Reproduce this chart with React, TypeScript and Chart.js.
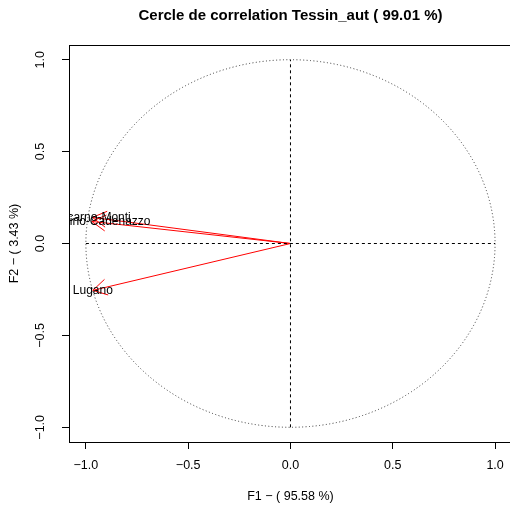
import React, { useEffect, useRef } from "react";
import { Chart, registerables } from "chart.js";

Chart.register(...registerables);

const TITLE = "Cercle de correlation Tessin_aut ( 99.01 %)";
const X_TITLE = "F1 \u2212 ( 95.58 %)";
const Y_TITLE = "F2 \u2212 ( 3.43 %)";

const variables = ["Locarno-Monti", "Magadino-Cadenazzo", "Lugano"];
const f1Values = [-0.968, -0.971, -0.966];
const f2Values = [0.142, 0.12, -0.255];

const tickValues = [-1, -0.5, 0, 0.5, 1];
const tickLabels = ["\u22121.0", "\u22120.5", "0.0", "0.5", "1.0"];

const X_MIN = -1.0825;
const X_MAX = 1.073;
const Y_MIN = -1.08;
const Y_MAX = 1.08;

const FONT = '"Liberation Sans", Arial, Helvetica, sans-serif';

const rPlugin = {
  id: "rStyle",
  beforeDatasetsDraw(chart: any) {
    const { ctx, chartArea, scales } = chart;
    const xs = scales.x;
    const ys = scales.y;
    const cx = xs.getPixelForValue(0);
    const cy = ys.getPixelForValue(0);
    const rx = xs.getPixelForValue(1) - cx;
    const ry = cy - ys.getPixelForValue(1);
    ctx.save();
    ctx.beginPath();
    ctx.rect(chartArea.left, chartArea.top, chartArea.right - chartArea.left, chartArea.bottom - chartArea.top);
    ctx.clip();
    ctx.strokeStyle = "#333";
    ctx.lineWidth = 1;
    ctx.setLineDash([1, 2.4]);
    ctx.beginPath();
    ctx.ellipse(cx, cy, rx, ry, 0, 0, Math.PI * 2);
    ctx.stroke();
    ctx.restore();
  },
  afterDatasetsDraw(chart: any) {
    const { ctx, chartArea, scales } = chart;
    const xs = scales.x;
    const ys = scales.y;
    ctx.save();
    ctx.strokeStyle = "#000";
    ctx.lineWidth = 1;
    ctx.setLineDash([]);
    ctx.strokeRect(
      Math.round(chartArea.left) + 0.5,
      Math.round(chartArea.top) + 0.5,
      chartArea.right - chartArea.left,
      chartArea.bottom - chartArea.top
    );
    ctx.beginPath();
    ctx.rect(chartArea.left, chartArea.top, chartArea.right - chartArea.left, chartArea.bottom - chartArea.top);
    ctx.clip();
    chart.data.datasets.forEach((ds: any, i: number) => {
      if (!ds.isArrow) return;
      const meta = chart.getDatasetMeta(i);
      const p0 = meta.data[0];
      const p1 = meta.data[1];
      const dx = p0.x - p1.x;
      const dy = p0.y - p1.y;
      const len = Math.hypot(dx, dy);
      const ux = dx / len;
      const uy = dy / len;
      const L = 16;
      const a = Math.PI / 6;
      ctx.strokeStyle = "#ff0000";
      ctx.lineWidth = 1;
      ctx.beginPath();
      for (const s of [-1, 1]) {
        const c = Math.cos(s * a);
        const sn = Math.sin(s * a);
        const bx = ux * c - uy * sn;
        const by = ux * sn + uy * c;
        ctx.moveTo(p1.x, p1.y);
        ctx.lineTo(p1.x + bx * L, p1.y + by * L);
      }
      ctx.stroke();
    });
    ctx.fillStyle = "#000";
    ctx.font = `12px ${FONT}`;
    ctx.textAlign = "center";
    ctx.textBaseline = "middle";
    variables.forEach((v, i) => {
      ctx.fillText(v, xs.getPixelForValue(f1Values[i]), ys.getPixelForValue(f2Values[i]));
    });
    ctx.restore();

    ctx.save();
    ctx.fillStyle = "#000";
    ctx.font = `12.5px ${FONT}`;
    ctx.textAlign = "center";
    ctx.textBaseline = "middle";
    tickValues.forEach((t, i) => {
      ctx.fillText(tickLabels[i], xs.getPixelForValue(t), 466);
    });
    tickValues.forEach((t, i) => {
      ctx.save();
      ctx.translate(41, ys.getPixelForValue(t));
      ctx.rotate(-Math.PI / 2);
      ctx.fillText(tickLabels[i], 0, 0);
      ctx.restore();
    });
    ctx.fillText(X_TITLE, xs.getPixelForValue(0), 497);
    ctx.save();
    ctx.translate(15, ys.getPixelForValue(0));
    ctx.rotate(-Math.PI / 2);
    ctx.fillText(Y_TITLE, 0, 0);
    ctx.restore();
    ctx.font = `bold 15px ${FONT}`;
    ctx.fillText(TITLE, xs.getPixelForValue(0), 16);
    ctx.restore();
  },
};

export default function App() {
  const ref = useRef<HTMLCanvasElement | null>(null);
  useEffect(() => {
    if (!ref.current) return;
    const arrowSets = variables.map((v, i) => ({
      label: v,
      isArrow: true,
      data: [
        { x: 0, y: 0 },
        { x: f1Values[i], y: f2Values[i] },
      ],
      showLine: true,
      borderColor: "#ff0000",
      borderWidth: 1,
      pointRadius: 0,
      fill: false,
    }));
    const chart = new Chart(ref.current, {
      type: "scatter",
      data: {
        datasets: [
          {
            label: "h",
            data: [
              { x: -1, y: 0 },
              { x: 1, y: 0 },
            ],
            showLine: true,
            borderColor: "#000",
            borderWidth: 1,
            borderDash: [3, 3],
            pointRadius: 0,
          },
          {
            label: "v",
            data: [
              { x: 0, y: -1 },
              { x: 0, y: 1 },
            ],
            showLine: true,
            borderColor: "#000",
            borderWidth: 1,
            borderDash: [3, 3],
            pointRadius: 0,
          },
          ...arrowSets,
        ] as any,
      },
      options: {
        animation: false,
        responsive: false,
        devicePixelRatio: 1,
        layout: { padding: { top: 45, left: 0, right: 0, bottom: 0 } },
        plugins: {
          legend: { display: false },
          tooltip: { enabled: false },
          title: { display: false },
        },
        scales: {
          x: {
            type: "linear",
            min: X_MIN,
            max: X_MAX,
            afterFit: (s: any) => {
              s.height = 66;
            },
            ticks: { display: false, stepSize: 0.5, includeBounds: false },
            grid: {
              display: true,
              drawOnChartArea: false,
              drawTicks: true,
              tickLength: 7,
              color: "#000",
              lineWidth: 1,
            },
            border: { display: true, color: "#000", width: 1 },
          },
          y: {
            type: "linear",
            min: Y_MIN,
            max: Y_MAX,
            afterFit: (s: any) => {
              s.width = 69;
            },
            ticks: { display: false, stepSize: 0.5, includeBounds: false },
            grid: {
              display: true,
              drawOnChartArea: false,
              drawTicks: true,
              tickLength: 7,
              color: "#000",
              lineWidth: 1,
            },
            border: { display: true, color: "#000", width: 1 },
          },
        },
      } as any,
      plugins: [rPlugin],
    });
    return () => chart.destroy();
  }, []);
  return (
    <div style={{ position: "absolute", left: 0, top: 0, width: 510, height: 508, background: "#fff" }}>
      <canvas ref={ref} width={510} height={508} />
    </div>
  );
}
